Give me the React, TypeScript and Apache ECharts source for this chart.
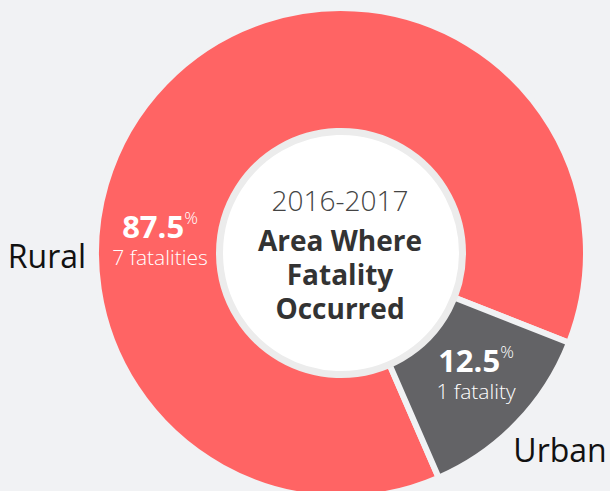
import React, { useEffect, useRef } from "react";
import * as echarts from "echarts";

const categories = ["Rural", "Urban"];
const fatalities = [7, 1];
const percentLabels = ["87.5", "12.5"];
const countLabels = ["7 fatalities", "1 fatality"];
const sliceColors = ["#ff6464", "#636366"];
const titleYear = "2016-2017";
const titleLines = ["Area Where", "Fatality", "Occurred"];

const FONT = "'Open Sans', 'Noto Sans', sans-serif";
const BG = "#f1f2f4";

export default function App() {
  const ref = useRef<HTMLDivElement>(null);
  useEffect(() => {
    document.body.style.margin = "0";
    const chart = echarts.init(ref.current!, undefined, { renderer: "svg" });
    const cx = 341;
    const cy = 253;
    const labelPos = [
      [160, 209],
      [476, 343],
    ];
    const namePos = [
      [47, 255],
      [560, 449],
    ];
    const graphics: any[] = [
      {
        type: "circle",
        shape: { cx, cy, r: 121.5 },
        style: { fill: "#ffffff", stroke: "#ececec", lineWidth: 7 },
        z: 10,
      },
      {
        type: "text",
        x: 340,
        y: 177,
        z: 11,
        style: {
          text:
            `{y|${titleYear}}\n` + titleLines.map((t) => `{t|${t}}`).join("\n"),
          align: "center",
          verticalAlign: "top",
          rich: {
            y: {
              fontFamily: FONT,
              fontSize: 28,
              fontWeight: 300,
              fill: "#444444",
              lineHeight: 46,
              align: "center",
            },
            t: {
              fontFamily: FONT,
              fontSize: 28,
              fontWeight: "bold",
              fill: "#333333",
              lineHeight: 34,
              align: "center",
            },
          },
        },
      },
    ];
    categories.forEach((c, i) => {
      graphics.push({
        type: "text",
        x: labelPos[i][0],
        y: labelPos[i][1],
        z: 11,
        style: {
          text: `{a|${percentLabels[i]}}{b|%}\n{c|${countLabels[i]}}`,
          align: "center",
          verticalAlign: "top",
          rich: {
            a: {
              fontFamily: FONT,
              fontSize: 31,
              fontWeight: "bold",
              fill: "#ffffff",
              lineHeight: 34,
            },
            b: {
              fontFamily: FONT,
              fontSize: 17,
              fontWeight: 300,
              fill: "#ffffff",
              verticalAlign: "top",
              lineHeight: 34,
            },
            c: {
              fontFamily: FONT,
              fontSize: 21,
              fontWeight: 300,
              fill: "#ffffff",
              lineHeight: 28,
            },
          },
        },
      });
      graphics.push({
        type: "text",
        x: namePos[i][0],
        y: namePos[i][1],
        z: 11,
        style: {
          text: c,
          fontFamily: FONT,
          fontSize: 32,
          fill: "#111111",
          align: "center",
          verticalAlign: "middle",
        },
      });
    });
    chart.setOption({
      animation: false,
      backgroundColor: BG,
      series: [
        {
          type: "pie",
          center: [cx, cy],
          radius: [110, 245],
          startAngle: 293.5,
          clockwise: true,
          silent: true,
          label: { show: false },
          labelLine: { show: false },
          itemStyle: { borderColor: BG, borderWidth: 6 },
          data: categories.map((c, i) => ({
            name: c,
            value: fatalities[i],
            itemStyle: { color: sliceColors[i] },
          })),
        },
      ],
      graphic: graphics,
    });
    return () => chart.dispose();
  }, []);
  return (
    <div
      ref={ref}
      style={{ position: "fixed", left: 0, top: 0, width: 610, height: 491 }}
    />
  );
}
